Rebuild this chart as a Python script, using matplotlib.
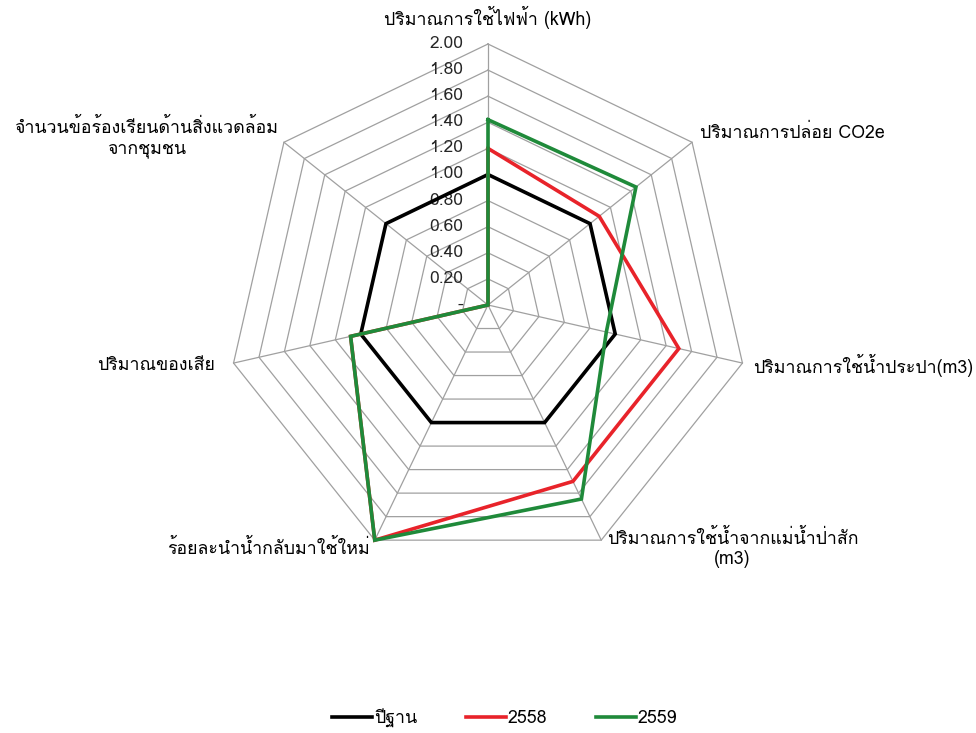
import numpy as np
import matplotlib
matplotlib.use("Agg")
import matplotlib.pyplot as plt
from matplotlib import font_manager
from matplotlib.ft2font import FT2Font
from matplotlib.lines import Line2D

# ---------------- data ----------------
categories = [
    "ปริมาณการใช้ไฟฟ้า (kWh)",
    "ปริมาณการปล่อย CO2e",
    "ปริมาณการใช้น้ำประปา(m3)",
    "ปริมาณการใช้น้ำจากแม่น้ำป่าสัก\n(m3)",
    "ร้อยละนำน้ำกลับมาใช้ใหม่",
    "ปริมาณของเสีย",
    "จำนวนข้อร้องเรียนด้านสิ่งแวดล้อม\nจากชุมชน",
]
series_names = ["ปีฐาน", "2558", "2559"]
base_values = [1.00, 1.00, 1.00, 1.00, 1.00, 1.00, 1.00]
y2558_values = [1.20, 1.09, 1.50, 1.50, 2.00, 1.08, 0.00]
y2559_values = [1.42, 1.45, 0.93, 1.65, 2.00, 1.08, 0.00]
tick_values = [0.2, 0.4, 0.6, 0.8, 1.0, 1.2, 1.4, 1.6, 1.8, 2.0]
tick_labels = ["0.20", "0.40", "0.60", "0.80", "1.00", "1.20", "1.40", "1.60", "1.80", "2.00"]
center_label = "-"
r_max = 2.0

# ---------------- fonts ----------------
thai_family = None
for fe in font_manager.fontManager.ttflist:
    try:
        f = FT2Font(fe.fname)
        cm = f.get_charmap()
        if 0x0E1B in cm and 0x0E49 in cm and 0x0041 in cm:
            thai_family = fe.name
            break
    except Exception:
        pass
families = ([thai_family] if thai_family else []) + ["DejaVu Sans"]
plt.rcParams["font.family"] = families

# ---------------- figure ----------------
W, H = 976, 733
fig = plt.figure(figsize=(W / 100, H / 100), dpi=100)
ax = fig.add_axes([0, 0, 1, 1])
cx, cy, s = 488, 305, 130.5   # centre pixel and pixels per unit
ax.set_xlim(-cx / s, (W - cx) / s)
ax.set_ylim(-(H - cy) / s, cy / s)
ax.axis("off")

n = len(categories)
theta = np.arange(n) * 2 * np.pi / n


def to_xy(vals):
    vals = np.asarray(vals, dtype=float)
    x = vals * np.sin(theta)
    y = vals * np.cos(theta)
    return np.append(x, x[0]), np.append(y, y[0])


grid_col = "#A0A0A0"
# polygon grid
for v in tick_values:
    gx, gy = to_xy([v] * n)
    ax.plot(gx, gy, color=grid_col, lw=0.9, zorder=1)
# spokes
for t in theta:
    ax.plot([0, r_max * np.sin(t)], [0, r_max * np.cos(t)], color=grid_col, lw=0.9, zorder=1)

# tick labels on the top spoke
for v, lab in zip([0.0] + tick_values, [center_label] + tick_labels):
    ax.annotate(lab, xy=(0, v), xytext=(-18, 0), textcoords="offset points",
                ha="right", va="center", fontsize=12.5, color="#262626")

# series
colors = ["#000000", "#E8232A", "#1F8A3A"]
for vals, col in zip([base_values, y2558_values, y2559_values], colors):
    px, py = to_xy(vals)
    ax.plot(px, py, color=col, lw=2.6, solid_joinstyle="miter", zorder=3)

# category labels (offsets in points relative to outer vertex)
label_offsets = [
    ((0, 19), "center", "center", "center"),
    ((6, 6.5), "left", "center", "left"),
    ((8, -1.5), "left", "center", "left"),
    ((4, 8), "left", "top", "center"),
    ((-3.5, -6), "right", "center", "right"),
    ((-13.5, -1.5), "right", "center", "right"),
    ((-4, 3), "right", "center", "center"),
]
for i, lab in enumerate(categories):
    (dx, dy), ha, va, ma = label_offsets[i]
    ax.annotate(lab, xy=(r_max * np.sin(theta[i]), r_max * np.cos(theta[i])),
                xytext=(dx, dy), textcoords="offset points",
                ha=ha, va=va, multialignment=ma, fontsize=12.8, color="#000000",
                linespacing=1.15)

# legend
handles = [Line2D([0], [0], color=c, lw=2.6) for c in colors]
fig.legend(handles, series_names, loc="center", bbox_to_anchor=(0.517, 15 / H),
           ncol=3, frameon=False, fontsize=12.8, handlelength=2.25,
           handletextpad=0.1, columnspacing=2.75)

fig.savefig("out.png", dpi=100)
